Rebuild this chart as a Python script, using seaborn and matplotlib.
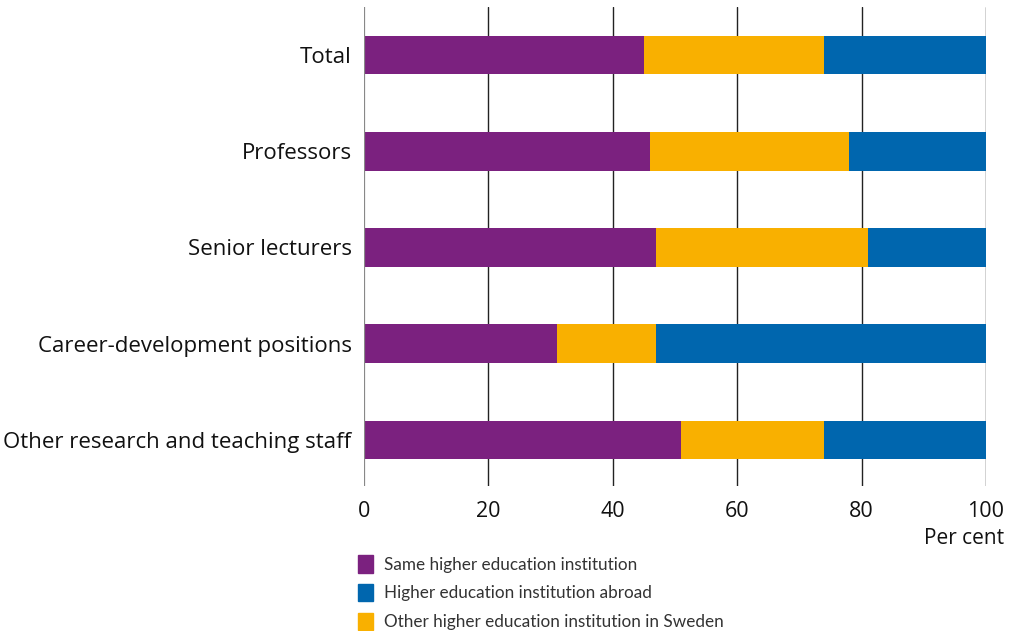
import numpy as np
import pandas as pd
import matplotlib
matplotlib.use("Agg")
import matplotlib.pyplot as plt
from matplotlib.patches import Patch
import seaborn as sns

categories = ["Total", "Professors", "Senior lecturers",
              "Career-development positions", "Other research and teaching staff"]
same_hei = [45, 46, 47, 31, 51]
other_sweden = [29, 32, 34, 16, 23]
abroad = [26, 22, 19, 53, 26]

series_labels = ["Same higher education institution",
                 "Higher education institution abroad",
                 "Other higher education institution in Sweden"]
colors = {"same": "#7B217F", "sweden": "#F9B000", "abroad": "#0066AE"}

sns.set_theme(style="white")
plt.rcParams["font.family"] = ["Open Sans", "DejaVu Sans"]

df = pd.DataFrame({
    "category": categories,
    "same": same_hei,
    "sweden": other_sweden,
    "abroad": abroad,
})
df["cum_same"] = df["same"]
df["cum_sweden"] = df["same"] + df["sweden"]
df["cum_abroad"] = df["cum_sweden"] + df["abroad"]

fig = plt.figure(figsize=(10.15, 6.31), dpi=100)
ax = fig.add_axes([364 / 1015, 1 - 486 / 631, (986 - 364) / 1015, (486 - 7) / 631])

# stacked horizontal bars: draw cumulative totals back to front
for col, key in [("cum_abroad", "abroad"), ("cum_sweden", "sweden"), ("cum_same", "same")]:
    sns.barplot(data=df, x=col, y="category", orient="h", color=colors[key],
                width=0.4, saturation=1, ax=ax, zorder=3, linewidth=0)

ax.set_xlim(0, 100)
ax.set_ylim(4.48, -0.5)
ax.set_xticks([0, 20, 40, 60, 80, 100])
ax.set_xlabel("")
ax.set_ylabel("")
ax.tick_params(axis="x", labelsize=15.5, colors="black", pad=11, length=0)
ax.tick_params(axis="y", labelsize=16, colors="black", pad=9, length=0)
for lbl in ax.get_xticklabels() + ax.get_yticklabels():
    lbl.set_color("#111111")

for s in ax.spines.values():
    s.set_visible(False)
for xv in [20, 40, 60, 80, 100]:
    ax.axvline(xv, color="#222222", lw=1.0, zorder=1)
ax.axvline(0, color="#888888", lw=1.6, zorder=4)

fig.text(1004 / 1015, 1 - 538 / 631, "Per cent", ha="right", va="center",
         fontsize=15, color="#111111")

handles = [Patch(color=colors["same"]), Patch(color=colors["abroad"]),
           Patch(color=colors["sweden"])]
leg = fig.legend(handles, series_labels, loc="upper left",
                 bbox_to_anchor=(343 / 1015, 1 - 540 / 631), frameon=False,
                 handlelength=0.88, handleheight=1.18, handletextpad=0.6,
                 labelspacing=0.66, labelcolor="#333333",
                 prop={"family": ["Lato", "DejaVu Sans"], "size": 12.3})

fig.savefig("out.png", dpi=100)
